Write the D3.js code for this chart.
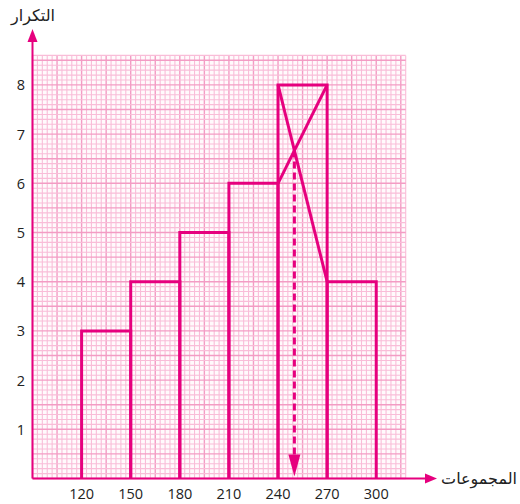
<!DOCTYPE html>
<html>
<head>
<meta charset="utf-8">
<script src="https://cdn.jsdelivr.net/npm/d3@7"></script>
<style>
  html, body { margin: 0; padding: 0; background: #fff; }
  svg { display: block; }
</style>
</head>
<body>
<svg id="chart" width="520" height="504"></svg>
<script>
// Histogram data: class boundaries and frequencies
const classStarts = [120, 150, 180, 210, 240, 270];
const classWidth = 30;
const frequencies = [3, 4, 5, 6, 8, 4];
const xTickLabels = [120, 150, 180, 210, 240, 270, 300];
const yTickLabels = [1, 2, 3, 4, 5, 6, 7, 8];
const xTitle = "المجموعات";
const yTitle = "التكرار";

const magenta = "#e6007e";
const svg = d3.select("#chart");

// Scales: the graph-paper grid spans these domains
const x = d3.scaleLinear().domain([90, 318]).range([32.5, 405.7]);
const y = d3.scaleLinear().domain([0, 8.6]).range([478.5, 55.4]);

// Graph paper
const grid = svg.append("g");
grid.append("rect")
  .attr("x", x(90)).attr("y", y(8.6))
  .attr("width", x(318) - x(90)).attr("height", y(0) - y(8.6))
  .attr("fill", "#fffafc");
const xMinor = d3.range(90, 318.01, 3);
const yMinor = d3.range(0, 86.01, 1).map(d => d / 10);
grid.selectAll(".vx").data(xMinor).join("line")
  .attr("x1", d => x(d)).attr("x2", d => x(d))
  .attr("y1", y(0)).attr("y2", y(8.6))
  .attr("stroke", (d) => ((d - 90) % 15 === 0) ? "#f39cc4" : "#f9bdd8")
  .attr("stroke-width", (d) => ((d - 90) % 15 === 0) ? 1.4 : 1.1);
grid.selectAll(".hy").data(yMinor).join("line")
  .attr("x1", x(90)).attr("x2", x(318))
  .attr("y1", d => y(d)).attr("y2", d => y(d))
  .attr("stroke", (d) => (Math.round(d * 10) % 5 === 0) ? "#f39cc4" : "#f9bdd8")
  .attr("stroke-width", (d) => (Math.round(d * 10) % 5 === 0) ? 1.4 : 1.1);

// Histogram bars (outlines)
const bars = classStarts.map((s, i) => ({ x0: s, x1: s + classWidth, f: frequencies[i] }));
svg.append("g").selectAll("path").data(bars).join("path")
  .attr("d", d => `M${x(d.x0)},${y(0)}V${y(d.f)}H${x(d.x1)}V${y(0)}`)
  .attr("fill", "none")
  .attr("stroke", magenta)
  .attr("stroke-width", 3)
  .attr("stroke-linejoin", "miter");

// Mode construction: diagonals inside the modal class
const mi = frequencies.indexOf(d3.max(frequencies));
const m = bars[mi], prev = bars[mi - 1], next = bars[mi + 1];
svg.append("line")
  .attr("x1", x(m.x0)).attr("y1", y(m.f))
  .attr("x2", x(m.x1)).attr("y2", y(next.f))
  .attr("stroke", magenta).attr("stroke-width", 3);
svg.append("line")
  .attr("x1", x(m.x0)).attr("y1", y(prev.f))
  .attr("x2", x(m.x1)).attr("y2", y(m.f))
  .attr("stroke", magenta).attr("stroke-width", 3);

// Intersection of the diagonals
const d1 = m.f - next.f, d2 = m.f - prev.f;
const t = d2 / (d1 + d2);
const modeX = m.x0 + t * classWidth;
const modeY = prev.f + t * (m.f - prev.f);

// Dashed drop line with arrowhead to the x-axis
svg.append("line")
  .attr("x1", x(modeX)).attr("y1", y(modeY))
  .attr("x2", x(modeX)).attr("y2", y(0) - 20)
  .attr("stroke", magenta).attr("stroke-width", 3)
  .attr("stroke-dasharray", "7,4");
svg.append("path")
  .attr("d", `M${x(modeX) - 6},${y(0) - 24}L${x(modeX) + 6},${y(0) - 24}L${x(modeX)},${y(0) - 2}Z`)
  .attr("fill", magenta);

// Axes with arrows
svg.append("line")
  .attr("x1", x(90)).attr("y1", y(0))
  .attr("x2", 428).attr("y2", y(0))
  .attr("stroke", magenta).attr("stroke-width", 2);
svg.append("path")
  .attr("d", `M425,${y(0) - 5}L437,${y(0)}L425,${y(0) + 5}Z`)
  .attr("fill", magenta);
svg.append("line")
  .attr("x1", x(90)).attr("y1", y(0))
  .attr("x2", x(90)).attr("y2", 38)
  .attr("stroke", magenta).attr("stroke-width", 2);
svg.append("path")
  .attr("d", `M${x(90) - 5},42L${x(90)},29L${x(90) + 5},42Z`)
  .attr("fill", magenta);

// Tick labels
svg.append("g").selectAll("text").data(xTickLabels).join("text")
  .attr("x", d => x(d)).attr("y", 499)
  .attr("text-anchor", "middle")
  .attr("font-family", "'Open Sans', sans-serif")
  .attr("font-size", 14.5)
  .attr("fill", "#222")
  .text(d => d);
svg.append("g").selectAll("text").data(yTickLabels).join("text")
  .attr("x", 25).attr("y", d => y(d) + 5.5)
  .attr("text-anchor", "end")
  .attr("font-family", "'Open Sans', sans-serif")
  .attr("font-size", 14.5)
  .attr("fill", "#222")
  .text(d => d);

// Axis titles
svg.append("text")
  .attr("x", 517).attr("y", 484)
  .attr("text-anchor", "end")
  .attr("font-family", "'DejaVu Sans', sans-serif")
  .attr("font-size", 16)
  .attr("fill", "#222")
  .text(xTitle);
svg.append("text")
  .attr("x", 33).attr("y", 21)
  .attr("text-anchor", "middle")
  .attr("font-family", "'DejaVu Sans', sans-serif")
  .attr("font-size", 16)
  .attr("fill", "#222")
  .text(yTitle);
</script>
</body>
</html>
